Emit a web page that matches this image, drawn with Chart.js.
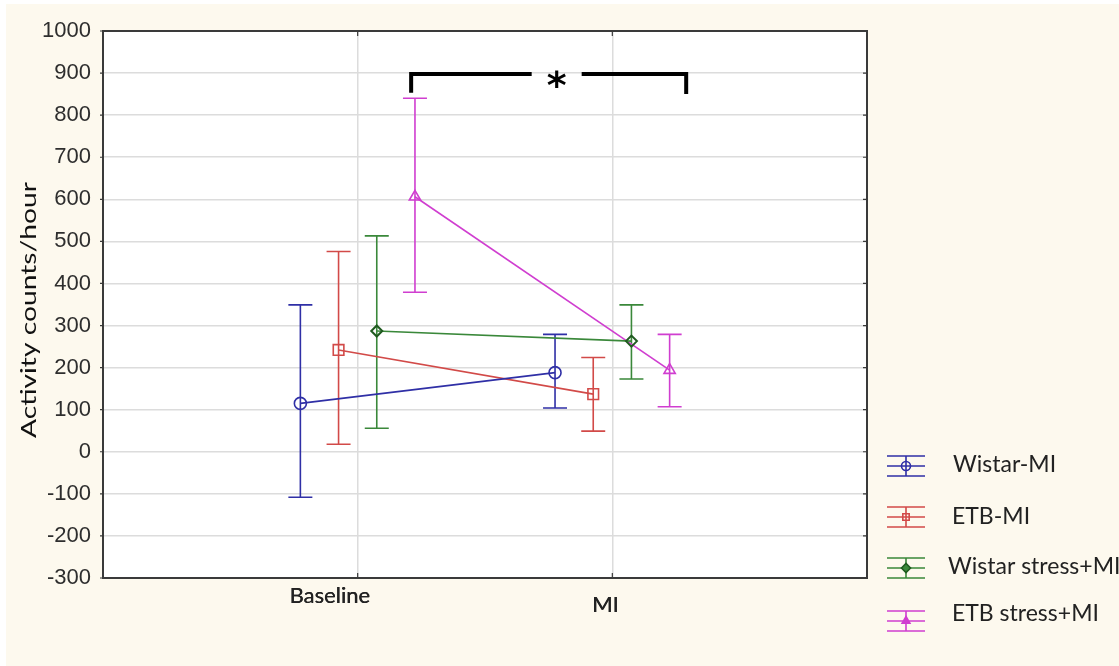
<!DOCTYPE html>
<html>
<head>
<meta charset="utf-8">
<script src="https://cdn.jsdelivr.net/npm/chart.js@4.4.1/dist/chart.umd.min.js"></script>
<style>
  html, body { margin: 0; padding: 0; background: #ffffff; }
  #wrap { width: 1119px; height: 666px; position: relative; }
</style>
</head>
<body>
<div id="wrap"><canvas id="c" width="1119" height="666"></canvas></div>
<script>
// Time points (x categories)
const categories = ['Baseline', 'MI'];

// Group names
const seriesNames = ['Wistar-MI', 'ETB-MI', 'Wistar stress+MI', 'ETB stress+MI'];

// Means and error-bar limits (activity counts per hour)
const wistarMI      = [115, 188];
const wistarMILow   = [-108, 104];
const wistarMIHigh  = [349, 279];

const etbMI         = [242, 137];
const etbMILow      = [18, 49];
const etbMIHigh     = [476, 224];

const wistarStress     = [287, 263];
const wistarStressLow  = [56, 173];
const wistarStressHigh = [513, 349];

const etbStress     = [606, 194];
const etbStressLow  = [379, 107];
const etbStressHigh = [840, 279];

// Y axis range and tick step
const yMin = -300, yMax = 1000, yStep = 100;

// Significance bracket between ETB stress+MI at Baseline and MI
const sigBracketX = [1.21, 2.29];
const sigBracketY = 898;
const sigBracketDropY = [853, 850];
const sigLabel = '*';

const yTitle = 'Activity counts/hour';

// ---- styling ----
const colors  = ['#2f2fa6', '#d24a48', '#3a883a', '#d03ed0'];
const markerEdge = ['#2f2fa6', '#d24a48', '#1f5a1f', '#d03ed0'];
const styles  = ['circle', 'rect', 'rectRot', 'triangle'];
const radii   = [6, 7.5, 5.5, 6.5];
const dodge   = [-0.225, -0.075, 0.075, 0.225];

const means = [wistarMI, etbMI, wistarStress, etbStress];
const lows  = [wistarMILow, etbMILow, wistarStressLow, etbStressLow];
const highs = [wistarMIHigh, etbMIHigh, wistarStressHigh, etbStressHigh];

const datasets = seriesNames.map((name, k) => ({
  label: name,
  data: categories.map((c, i) => ({ x: i + 1 + dodge[k], y: means[k][i] })),
  low: lows[k],
  high: highs[k],
  showLine: true,
  borderColor: colors[k],
  borderWidth: 1.6,
  pointStyle: styles[k],
  pointRadius: radii[k],
  pointBorderWidth: k === 2 ? 2 : 1.6,
  pointBorderColor: markerEdge[k],
  pointBackgroundColor: 'rgba(255,255,255,0)',
  tension: 0
}));

const FRAME = '#3a3a3a';
const CREAM = '#fdf9ee';
const TEXT = '#222222';

// Page background, cream panel and white plot area
const backgroundPlugin = {
  id: 'panelBackground',
  beforeDraw(chart) {
    const { ctx, width, height, chartArea: a } = chart;
    ctx.save();
    ctx.fillStyle = '#ffffff';
    ctx.fillRect(0, 0, width, height);
    ctx.fillStyle = CREAM;
    ctx.fillRect(6, 4, width - 6, height - 4);
    ctx.fillStyle = '#ffffff';
    ctx.fillRect(a.left, a.top, a.right - a.left, a.bottom - a.top);
    ctx.restore();
  }
};

// Vertical error bars with caps
const errorBarPlugin = {
  id: 'errorBars',
  beforeDatasetsDraw(chart) {
    const { ctx } = chart;
    const yScale = chart.scales.y;
    const cap = 12;
    ctx.save();
    chart.data.datasets.forEach((ds, k) => {
      const meta = chart.getDatasetMeta(k);
      ctx.strokeStyle = ds.borderColor;
      ctx.lineWidth = 1.6;
      meta.data.forEach((pt, i) => {
        const x = pt.x;
        const yl = yScale.getPixelForValue(ds.low[i]);
        const yh = yScale.getPixelForValue(ds.high[i]);
        ctx.beginPath();
        ctx.moveTo(x, yl); ctx.lineTo(x, yh);
        ctx.moveTo(x - cap, yh); ctx.lineTo(x + cap, yh);
        ctx.moveTo(x - cap, yl); ctx.lineTo(x + cap, yl);
        ctx.stroke();
      });
    });
    ctx.restore();
  }
};

// Frame, tick marks, category labels, axis title, bracket and legend
const decorPlugin = {
  id: 'decor',
  afterDraw(chart) {
    const { ctx, chartArea: a } = chart;
    const xs = chart.scales.x, ys = chart.scales.y;
    ctx.save();

    // plot frame
    ctx.strokeStyle = FRAME;
    ctx.lineWidth = 2;
    ctx.strokeRect(a.left, a.top, a.right - a.left, a.bottom - a.top);

    // tick marks
    ctx.lineWidth = 1.2;
    ctx.beginPath();
    for (let v = yMin; v <= yMax; v += yStep) {
      const y = ys.getPixelForValue(v);
      ctx.moveTo(a.left - 3, y); ctx.lineTo(a.left, y);
      ctx.moveTo(a.right - 4, y); ctx.lineTo(a.right, y);
    }
    categories.forEach((c, i) => {
      const x = xs.getPixelForValue(i + 1);
      ctx.moveTo(x, a.bottom); ctx.lineTo(x, a.bottom - 5);
      ctx.moveTo(x, a.top); ctx.lineTo(x, a.top + 5);
    });
    ctx.stroke();

    // category labels
    const labelShift = [-28, -7];
    const labelBase = [603, 612];
    ctx.fillStyle = TEXT;
    ctx.font = '22px Lato';
    ctx.textAlign = 'center';
    ctx.textBaseline = 'alphabetic';
    categories.forEach((c, i) => {
      const x = xs.getPixelForValue(i + 1) + labelShift[i];
      ctx.fillText(c, x, labelBase[i]);
      ctx.fillText(c, x + 0.4, labelBase[i]);
    });

    // y axis title, stretched along its length
    ctx.save();
    ctx.font = '21px Lato';
    ctx.fillStyle = '#111111';
    const tw = ctx.measureText(yTitle).width;
    ctx.translate(29, 310);
    ctx.rotate(-Math.PI / 2);
    ctx.scale(256 / tw, 1);
    ctx.textAlign = 'center';
    ctx.textBaseline = 'middle';
    ctx.fillText(yTitle, 0, 0);
    ctx.restore();

    // significance bracket
    const bx1 = xs.getPixelForValue(sigBracketX[0]);
    const bx2 = xs.getPixelForValue(sigBracketX[1]);
    const by = ys.getPixelForValue(sigBracketY);
    const bl = ys.getPixelForValue(sigBracketDropY[0]);
    const br = ys.getPixelForValue(sigBracketDropY[1]);
    const mid = (bx1 + bx2) / 2 + 8;
    const gap = 25;
    ctx.strokeStyle = '#000000';
    ctx.lineWidth = 4;
    ctx.lineCap = 'butt';
    ctx.lineJoin = 'miter';
    ctx.beginPath();
    ctx.moveTo(bx1, bl); ctx.lineTo(bx1, by); ctx.lineTo(mid - gap, by);
    ctx.moveTo(mid + gap, by); ctx.lineTo(bx2, by); ctx.lineTo(bx2, br);
    ctx.stroke();
    ctx.fillStyle = '#000000';
    ctx.font = 'bold 38px "DejaVu Sans"';
    ctx.textAlign = 'center';
    ctx.textBaseline = 'alphabetic';
    ctx.fillText(sigLabel, mid, by + 24);

    // legend
    const symX = 906, textX = [953, 952, 948, 952];
    const symY = [466, 517, 568, 621], textY = [465, 517, 567, 614];
    chart.data.datasets.forEach((ds, k) => {
      const cy = symY[k];
      ctx.strokeStyle = ds.borderColor;
      ctx.lineWidth = 1.6;
      ctx.beginPath();
      ctx.moveTo(symX - 19, cy - 10); ctx.lineTo(symX + 19, cy - 10);
      ctx.moveTo(symX - 19, cy); ctx.lineTo(symX + 19, cy);
      ctx.moveTo(symX - 19, cy + 10); ctx.lineTo(symX + 19, cy + 10);
      ctx.moveTo(symX, cy - 10); ctx.lineTo(symX, cy + 10);
      ctx.stroke();
      ctx.strokeStyle = markerEdge[k];
      ctx.fillStyle = (k >= 2) ? ds.borderColor : 'rgba(255,255,255,0)';
      Chart.helpers.drawPoint(ctx, { pointStyle: styles[k], radius: 4.5, borderWidth: 1.6, rotation: 0 }, symX, cy);
      ctx.fillStyle = TEXT;
      ctx.font = '23px Lato';
      ctx.textAlign = 'left';
      ctx.textBaseline = 'middle';
      ctx.fillText(ds.label, textX[k], textY[k]);
    });

    ctx.restore();
  }
};

new Chart(document.getElementById('c'), {
  type: 'scatter',
  data: { datasets },
  plugins: [backgroundPlugin, errorBarPlugin, decorPlugin],
  options: {
    responsive: false,
    devicePixelRatio: 1,
    animation: false,
    layout: { padding: { left: 0, top: 31, right: 252, bottom: 0 } },
    plugins: { legend: { display: false }, tooltip: { enabled: false } },
    scales: {
      x: {
        type: 'linear',
        min: 0,
        max: categories.length + 1,
        afterBuildTicks(s) { s.ticks = categories.map((c, i) => ({ value: i + 1 })); },
        afterFit(s) { s.height = 88; },
        ticks: { display: false },
        grid: { color: '#dcdcdc', lineWidth: 1.5, drawTicks: false },
        border: { display: false }
      },
      y: {
        type: 'linear',
        min: yMin,
        max: yMax,
        afterFit(s) { s.width = 103; },
        ticks: {
          stepSize: yStep,
          padding: 12,
          color: '#2e2e2e',
          font: { family: '"Liberation Sans", Arial, sans-serif', size: 22 },
          callback: v => String(v)
        },
        grid: { color: '#dcdcdc', lineWidth: 1.5, drawTicks: false },
        border: { display: false }
      }
    }
  }
});
</script>
</body>
</html>
